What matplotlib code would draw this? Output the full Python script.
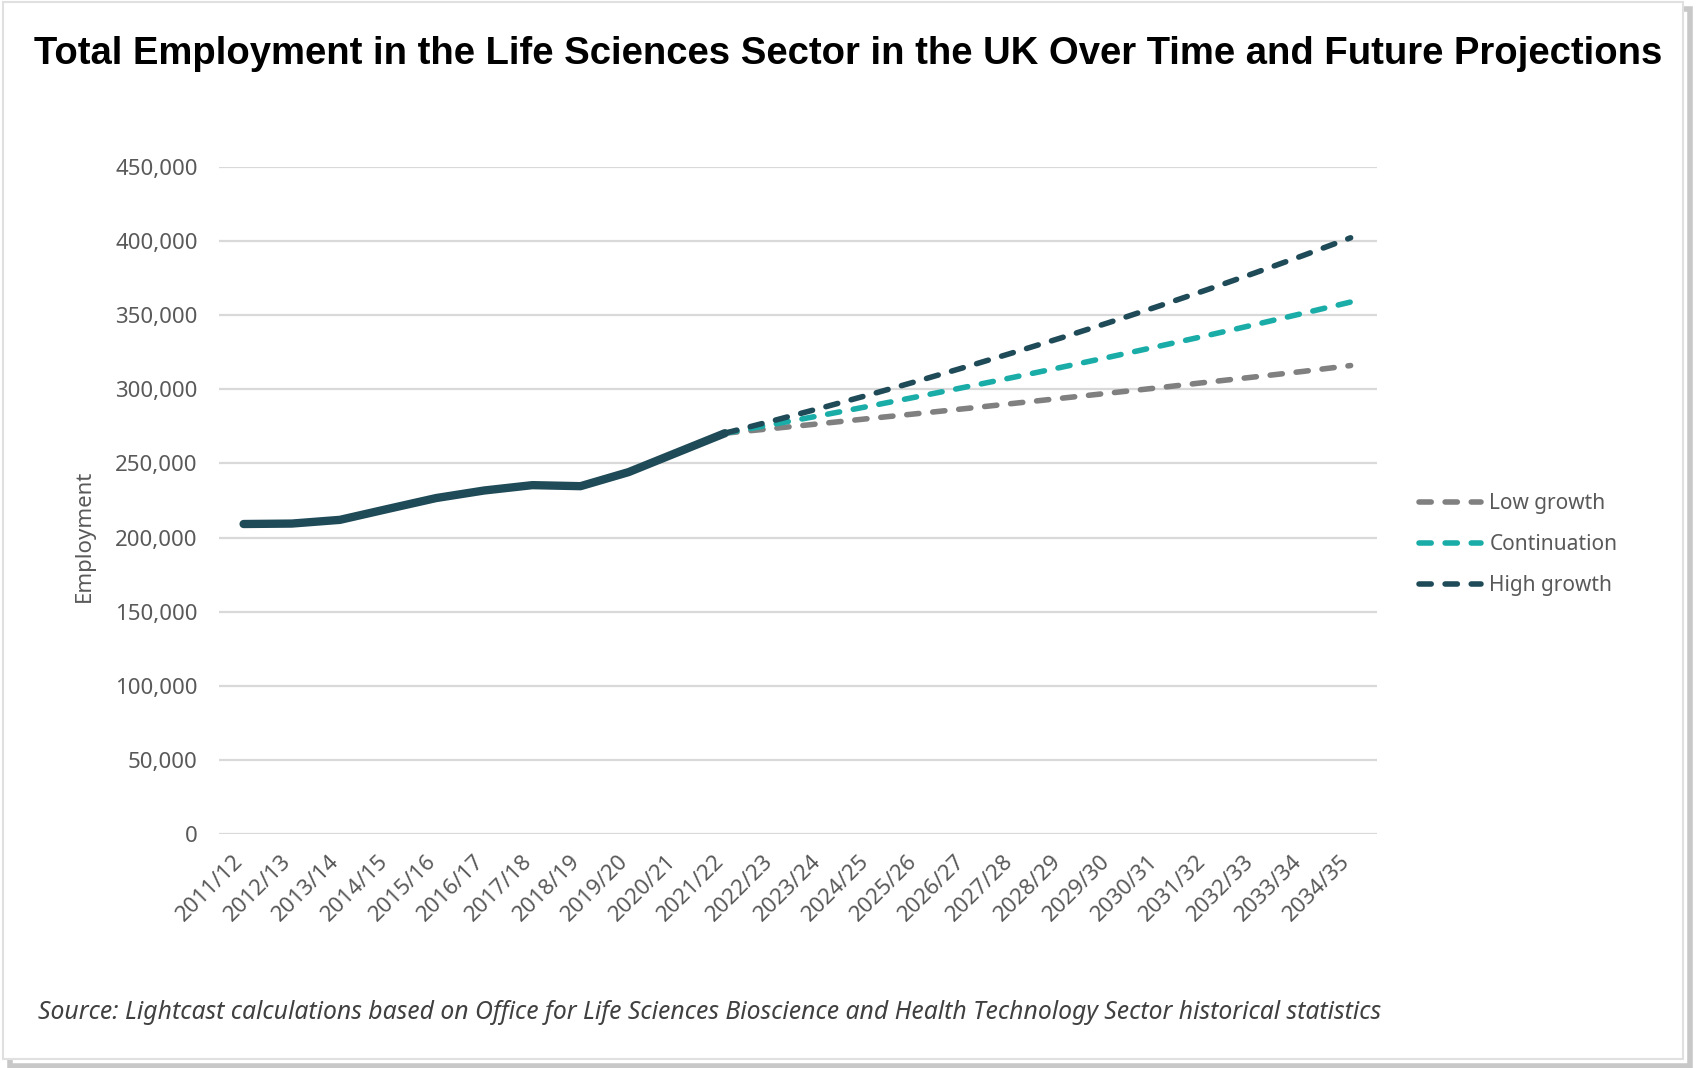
import matplotlib.pyplot as plt
import matplotlib.transforms as mtrans
from matplotlib.patches import Rectangle

# data
years = ['2011/12', '2012/13', '2013/14', '2014/15', '2015/16', '2016/17',
         '2017/18', '2018/19', '2019/20', '2020/21', '2021/22', '2022/23',
         '2023/24', '2024/25', '2025/26', '2026/27', '2027/28', '2028/29',
         '2029/30', '2030/31', '2031/32', '2032/33', '2033/34', '2034/35']

historical = [209200, 209500, 212000, 219400, 226700, 231800,
              235400, 234700, 244200, 257300, 270400]

# projections start at 2021/22
low_growth = [270400, 273600, 276900, 280300, 283600, 287000, 290500,
              294000, 297500, 301000, 304700, 308300, 312000, 316000]
continuation = [270400, 276400, 282400, 288600, 295000, 301500, 308100,
                314900, 321800, 328900, 336100, 343500, 351100, 358800]
high_growth = [270400, 278800, 287400, 296300, 305500, 315000, 324800,
               334800, 345200, 355900, 366900, 378300, 390000, 402100]

dark = '#1F4A58'
teal = '#1AADA8'
grey = '#808080'
text_grey = '#595959'

plt.rcParams['font.family'] = ['Noto Sans', 'DejaVu Sans']

fig = plt.figure(figsize=(16.97, 10.68), dpi=100)

# frame with a light shadow around the picture
fig.patches.append(Rectangle((0.006, 0.002), 0.99, 0.99, transform=fig.transFigure,
                             fill=False, edgecolor='#C8C8C8', lw=4, zorder=-3))
fig.patches.append(Rectangle((0.002, 0.008), 0.99, 0.99, transform=fig.transFigure,
                             facecolor='white', edgecolor='#E0E0E0', lw=1.5, zorder=-2))

ax = fig.add_axes([0.1288, 0.2187, 0.6824, 0.6252])
ax.patch.set_alpha(0)

x_hist = list(range(len(historical)))
x_proj = list(range(len(historical) - 1, len(years)))

dash = dict(linestyle=(0, (2.2, 2.5)), dash_capstyle='round', lw=4.0)
ax.plot(x_proj, low_growth, color=grey, label='Low growth', **dash)
ax.plot(x_proj, continuation, color=teal, label='Continuation', **dash)
ax.plot(x_proj, high_growth, color=dark, label='High growth', **dash)
ax.plot(x_hist, historical, color=dark, lw=6, solid_capstyle='round',
        solid_joinstyle='round')

ax.set_xlim(-0.52, 23.54)
ax.set_ylim(0, 450000)
ax.set_yticks(range(0, 450001, 50000))
ax.set_yticklabels([f'{v:,}' for v in range(0, 450001, 50000)])
ax.set_xticks(range(len(years)))
ax.set_xticklabels(years, rotation=45, ha='right', rotation_mode='anchor')

ax.grid(axis='y', color='#D9D9D9', lw=1.6)
ax.set_axisbelow(True)
for s in ax.spines.values():
    s.set_visible(False)
ax.tick_params(axis='both', length=0, labelsize=16, labelcolor=text_grey)
ax.tick_params(axis='y', pad=15)
ax.tick_params(axis='x', pad=8)

# nudge the slanted labels down-left like the original
shift = mtrans.ScaledTranslation(-0.11, -0.05, fig.dpi_scale_trans)
for lab in ax.get_xticklabels():
    lab.set_transform(lab.get_transform() + shift)

ax.set_ylabel('Employment', fontsize=16, color=text_grey)
ax.yaxis.set_label_coords(-0.107, 0.447)

leg = ax.legend(loc='center left', bbox_to_anchor=(1.02, 0.434), frameon=False,
                fontsize=15, labelcolor=text_grey, handlelength=3.0,
                labelspacing=0.95, handletextpad=0.4)

fig.text(0.5, 0.949, 'Total Employment in the Life Sciences Sector in the UK Over Time and Future Projections',
         ha='center', va='center', fontsize=27.5, fontweight='bold',
         family=['Liberation Sans', 'DejaVu Sans'], color='black')

fig.text(0.0224, 0.052, 'Source: Lightcast calculations based on Office for Life Sciences Bioscience and Health Technology Sector historical statistics',
         ha='left', va='center', fontsize=17.8, style='italic', color='#404040')

fig.savefig('out.png', dpi=100)
